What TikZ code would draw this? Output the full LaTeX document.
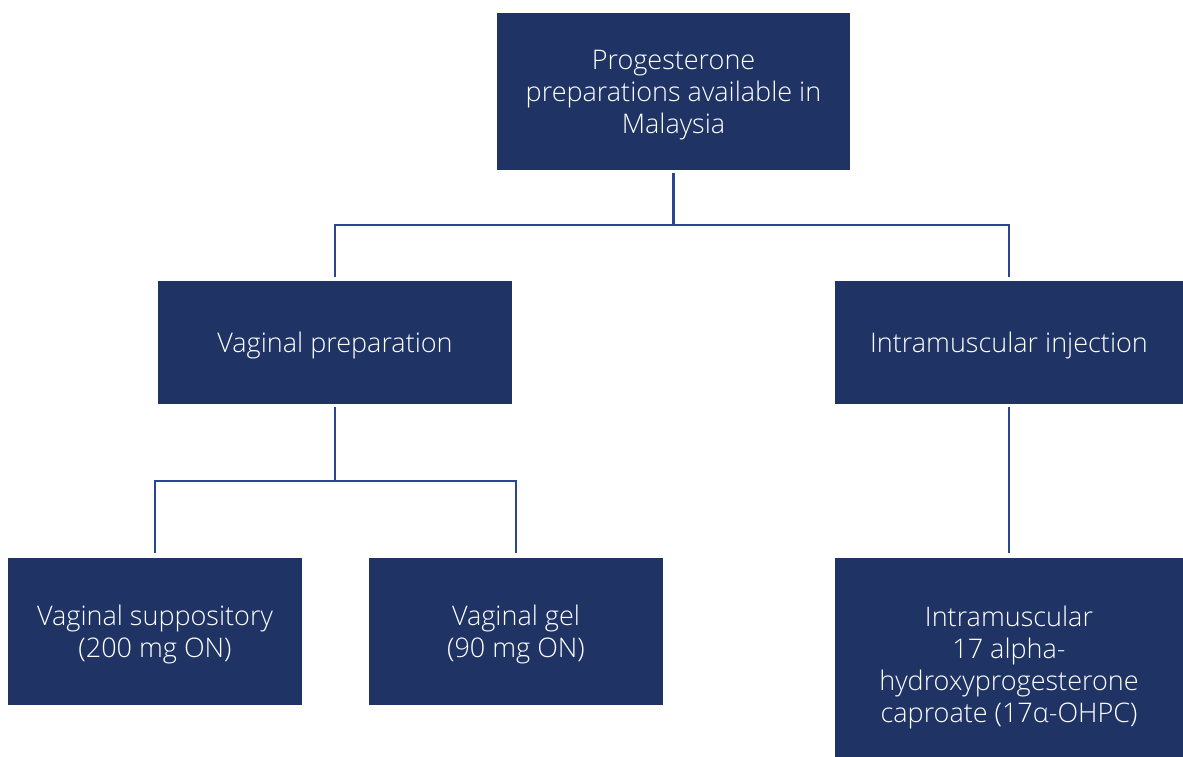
\documentclass[tikz,border=0pt]{standalone}
\usepackage{fontspec}
\setmainfont{Open Sans Light}
\definecolor{boxblue}{HTML}{1F3464}
\definecolor{lineblue}{HTML}{2B4593}
\newcommand{\dntext}[1]{\raisebox{-4pt}[\height][\depth]{\begin{tabular}{@{}c@{}}#1\end{tabular}}}
\tikzset{
  box/.style={rectangle, fill=boxblue, text=white, inner sep=0pt,
    font=\fontsize{27}{32}\selectfont},
  conn/.style={draw=lineblue, line width=2.6pt}
}
\begin{document}
\begin{tikzpicture}[x=1pt,y=-1pt]
\clip (0,0) rectangle (1183,756);
\fill[white] (0,0) rectangle (1183,756);
\node[box, minimum width=353pt, minimum height=157pt] (top) at (673.5,91.5)
  {\dntext{Progesterone\\preparations available in\\Malaysia}};
\node[box, minimum width=354pt, minimum height=123pt] (vp) at (335,342.5)
  {\dntext{Vaginal preparation}};
\node[box, minimum width=348pt, minimum height=123pt] (im) at (1009,342.5)
  {\dntext{Intramuscular injection}};
\node[box, minimum width=294pt, minimum height=147pt] (vs) at (155,631.5)
  {\dntext{Vaginal suppository\\(200 mg ON)}};
\node[box, minimum width=294pt, minimum height=147pt] (vg) at (516,631.5)
  {\dntext{Vaginal gel\\(90 mg ON)}};
\node[box, minimum width=348pt, minimum height=212pt] (ohpc) at (1009,664)
  {\dntext{Intramuscular\\17 alpha-\\hydroxyprogesterone\\caproate (17α-OHPC)}};
\coordinate (j1) at (673.5,225);
\coordinate (j2) at (335,481);
\draw[conn] ([yshift=-3pt]top.south) -- (j1);
\draw[conn] ([yshift=4pt]vp.north) |- (j1) -| ([yshift=4pt]im.north);
\draw[conn] ([yshift=-3pt]vp.south) -- (j2);
\draw[conn] ([yshift=5pt]vs.north) |- (j2) -| ([yshift=5pt]vg.north);
\draw[conn] ([yshift=-3pt]im.south) -- ([yshift=5pt]ohpc.north);
\end{tikzpicture}
\end{document}
